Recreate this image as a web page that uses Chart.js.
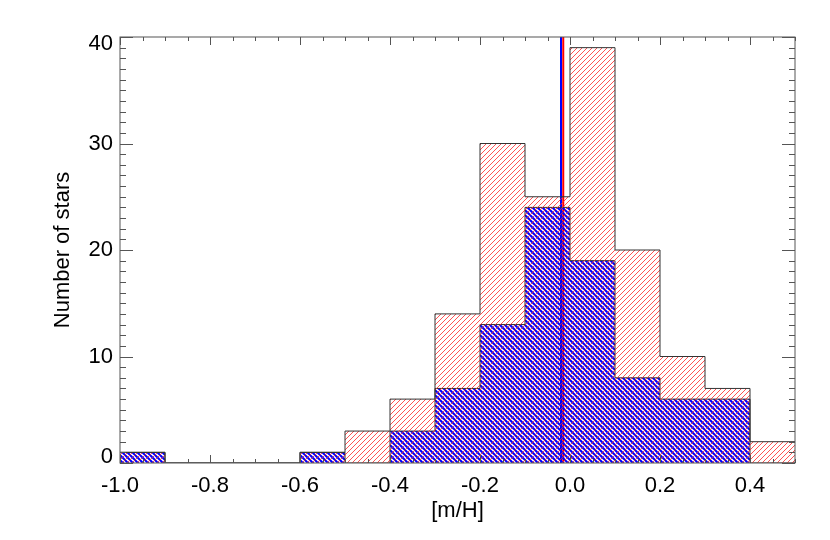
<!DOCTYPE html>
<html>
<head>
<meta charset="utf-8">
<script src="https://cdn.jsdelivr.net/npm/chart.js@4/dist/chart.umd.min.js"></script>
<style>
  html, body { margin: 0; padding: 0; background: #fff; }
  #wrap { width: 830px; height: 540px; }
</style>
</head>
<body>
<div id="wrap"><canvas id="histo"></canvas></div>
<script>
// bin left edges, width 0.1
var binEdges = [-1.0, -0.9, -0.8, -0.7, -0.6, -0.5, -0.4, -0.3, -0.2, -0.1, 0.0, 0.1, 0.2, 0.3, 0.4];
var binEnd = 0.5;
var countsAll = [1, 0, 0, 0, 1, 3, 6, 14, 30, 25, 39, 20, 10, 7, 2];
var countsSub = [1, 0, 0, 0, 1, 0, 3, 7, 13, 24, 19, 8, 6, 6, 0];
var medianAll = -0.015;
var medianSub = -0.02;
var xTickValues = [-1.0, -0.8, -0.6, -0.4, -0.2, 0.0, 0.2, 0.4];
var yTickValues = [0, 10, 20, 30, 40];
var xTitle = '[m/H]';
var yTitle = 'Number of stars';

var FONT = 'Liberation Sans, Arial, Helvetica, sans-serif';

function hatch(color, width, dir, size) {
  var c = document.createElement('canvas');
  c.width = size; c.height = size;
  var g = c.getContext('2d');
  g.strokeStyle = color;
  g.lineWidth = width;
  g.beginPath();
  if (dir === '/') {
    g.moveTo(0, size); g.lineTo(size, 0);
    g.moveTo(-1, 1); g.lineTo(1, -1);
    g.moveTo(size - 1, size + 1); g.lineTo(size + 1, size - 1);
  } else {
    g.moveTo(0, 0); g.lineTo(size, size);
    g.moveTo(size - 1, -1); g.lineTo(size + 1, 1);
    g.moveTo(-1, size - 1); g.lineTo(1, size + 1);
  }
  g.stroke();
  return g.createPattern(c, 'repeat');
}

function stepPoints(counts) {
  var pts = binEdges.map(function (e, i) { return { x: e, y: counts[i] }; });
  pts.push({ x: binEnd, y: counts[counts.length - 1] });
  return pts;
}

function vline(x, yTop) {
  return [{ x: x, y: 0 }, { x: x, y: yTop }];
}

// IDL-style box with inward ticks + y labels
var boxPlugin = {
  id: 'box',
  afterDatasetsDraw: function (chart) {
    var ctx = chart.ctx, a = chart.chartArea;
    var xs = chart.scales.x, ys = chart.scales.y;
    ctx.save();
    ctx.strokeStyle = '#555';
    ctx.lineWidth = 1;
    ctx.strokeRect(a.left, a.top, a.right - a.left, a.bottom - a.top);
    ctx.beginPath();
    var i, v, p, len;
    for (i = 0; i <= 30; i++) {
      v = -1.0 + i * 0.05;
      p = Math.round(xs.getPixelForValue(v)) + 0.5;
      len = (i % 4 === 0) ? 8 : 4;
      ctx.moveTo(p, a.bottom); ctx.lineTo(p, a.bottom - len);
      ctx.moveTo(p, a.top); ctx.lineTo(p, a.top + len);
    }
    for (i = 0; i <= 40; i++) {
      p = Math.round(ys.getPixelForValue(i)) + 0.5;
      len = (i % 10 === 0) ? 13 : 6;
      ctx.moveTo(a.left, p); ctx.lineTo(a.left + len, p);
      ctx.moveTo(a.right, p); ctx.lineTo(a.right - len, p);
    }
    ctx.stroke();

    ctx.fillStyle = '#000';
    ctx.font = '22px ' + FONT;
    ctx.textAlign = 'right';
    ctx.textBaseline = 'middle';
    yTickValues.forEach(function (val) {
      var y = ys.getPixelForValue(val);
      y = Math.max(a.top + 7, Math.min(a.bottom - 6, y));
      ctx.fillText(String(val), a.left - 7, y);
    });
    ctx.restore();
  }
};

var red = hatch('rgba(255,40,40,0.8)', 1, '/', 5);
var blue = hatch('#0000ff', 2, '\\', 5);

new Chart(document.getElementById('histo'), {
  type: 'line',
  data: {
    datasets: [
      {
        data: stepPoints(countsAll),
        stepped: true,
        fill: 'origin',
        backgroundColor: red,
        borderColor: '#333',
        borderWidth: 1,
        pointRadius: 0
      },
      {
        data: stepPoints(countsSub),
        stepped: true,
        fill: 'origin',
        backgroundColor: blue,
        borderColor: '#333',
        borderWidth: 1,
        pointRadius: 0
      },
      {
        data: vline(medianAll, 40),
        borderColor: '#ff0000',
        borderWidth: 2,
        pointRadius: 0,
        fill: false
      },
      {
        data: vline(medianSub, 40),
        borderColor: '#0000ff',
        borderWidth: 2,
        pointRadius: 0,
        fill: false
      }
    ]
  },
  options: {
    responsive: true,
    maintainAspectRatio: false,
    animation: false,
    layout: { padding: { top: 37, right: 35, left: 0, bottom: 0 } },
    plugins: { legend: { display: false }, tooltip: { enabled: false } },
    scales: {
      x: {
        type: 'linear',
        min: -1.0,
        max: 0.5,
        afterBuildTicks: function (s) { s.ticks = xTickValues.map(function (v) { return { value: v }; }); },
        afterFit: function (s) { s.height = 77; },
        grid: { display: false },
        border: { display: false },
        ticks: {
          color: '#000',
          font: { family: FONT, size: 22 },
          padding: 2,
          maxRotation: 0,
          autoSkip: false,
          callback: function (v) { return Math.abs(v) < 1e-9 ? '0.0' : Number(v).toFixed(1); }
        },
        title: {
          display: true,
          text: xTitle,
          color: '#000',
          font: { family: FONT, size: 22 },
          padding: { top: 0, bottom: 16 }
        }
      },
      y: {
        min: 0,
        max: 40,
        afterBuildTicks: function (s) { s.ticks = yTickValues.map(function (v) { return { value: v }; }); },
        afterFit: function (s) { s.width = 120; },
        grid: { display: false },
        border: { display: false },
        ticks: { display: false },
        title: {
          display: true,
          text: yTitle,
          color: '#000',
          font: { family: FONT, size: 22 },
          padding: { top: 50, bottom: 0 }
        }
      }
    }
  },
  plugins: [boxPlugin]
});
</script>
</body>
</html>
